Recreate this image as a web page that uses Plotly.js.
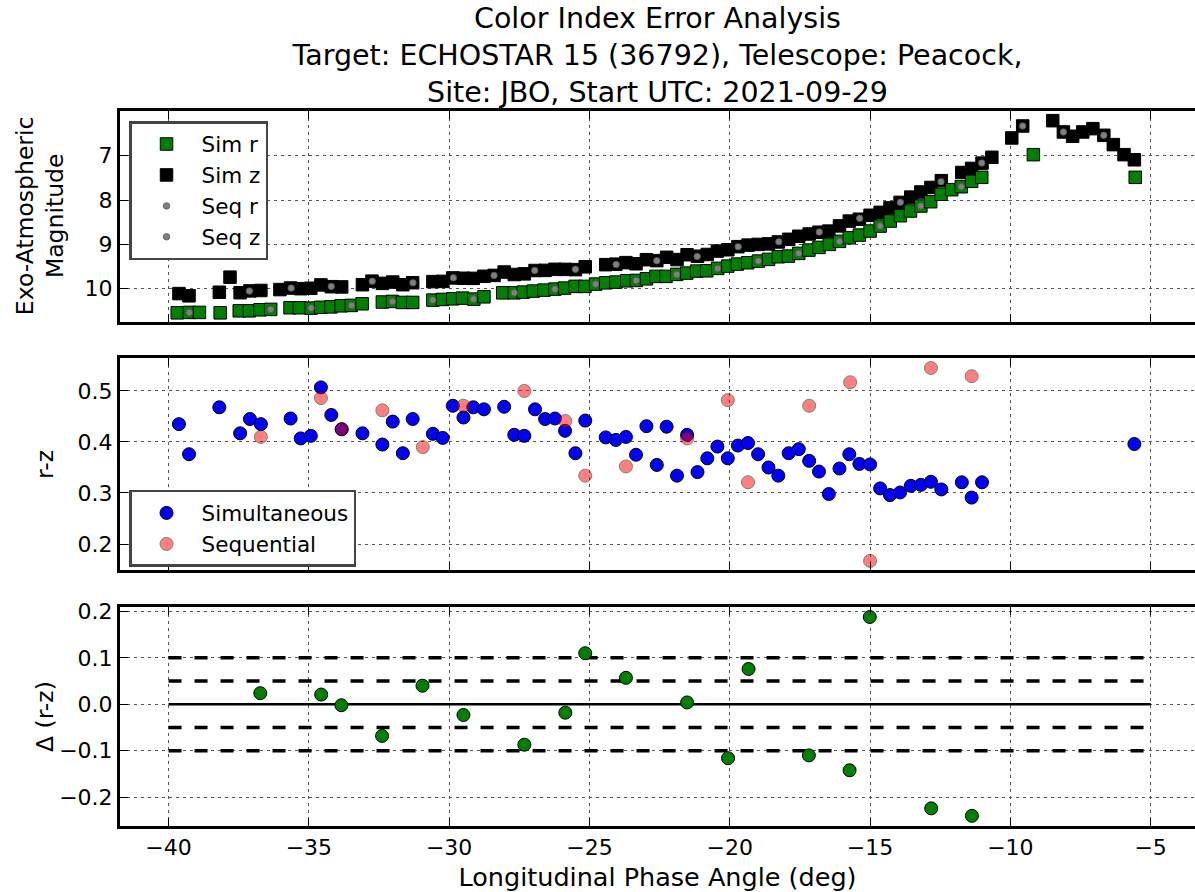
<!DOCTYPE html>
<html>
<head>
<meta charset="utf-8">
<script src="https://cdn.plot.ly/plotly-3.0.1.min.js"></script>
<style>html,body{margin:0;padding:0;background:#fff;}</style>
</head>
<body>
<div id="chart" style="width:1195px;height:892px;"></div>
<script>
// ---- Top panel: magnitudes ----
const simRx = [-39.69,-39.26,-38.90,-38.16,-37.48,-37.12,-36.74,-36.36,-35.67,-35.34,-34.92,-34.58,-34.21,-33.85,-33.49,-33.10,-32.38,-32.02,-31.67,-31.30,
  -30.58,-30.24,-29.87,-29.52,-29.12,-28.76,-28.09,-27.68,-27.36,-27.00,-26.62,-26.23,-25.89,-25.51,-25.16,-24.78,-24.42,-24.06,-23.67,-23.33,
  -22.97,-22.63,-22.27,-21.89,-21.53,-21.18,-20.82,-20.43,-20.07,-19.73,-19.36,-18.98,-18.62,-18.27,-17.91,-17.54,-17.18,-16.82,-16.45,-16.09,
  -15.74,-15.38,-15.00,-14.64,-14.28,-13.92,-13.56,-13.19,-12.84,-12.47,-12.09,-11.75,-11.38,-11.02,-9.18,-5.55];
const simR = [10.544,10.535,10.535,10.544,10.499,10.499,10.476,10.467,10.43,10.43,10.438,10.42,10.41,10.386,10.377,10.34,10.30,10.287,10.31,10.31,
  10.257,10.242,10.228,10.212,10.235,10.183,10.093,10.093,10.077,10.054,10.032,10.009,9.986,9.948,9.948,9.896,9.867,9.851,9.822,9.813,
  9.777,9.722,9.722,9.677,9.648,9.603,9.596,9.542,9.49,9.445,9.415,9.377,9.339,9.28,9.264,9.203,9.129,9.068,9.0,8.932,
  8.851,8.79,8.70,8.587,8.474,8.354,8.248,8.135,8.038,7.87,7.767,7.70,7.578,7.488,6.977,7.488];

const simZx = [-39.63,-39.27,-38.19,-37.81,-37.45,-37.10,-36.71,-36.03,-35.65,-35.29,-34.93,-34.57,-34.20,-33.83,-33.09,-32.75,-32.38,-32.01,-31.65,-31.30,
  -30.58,-30.23,-29.87,-29.49,-29.14,-28.76,-28.40,-28.04,-27.68,-27.32,-26.94,-26.58,-26.23,-25.87,-25.50,-25.15,-24.42,-24.06,-23.70,-23.34,
  -22.97,-22.60,-22.25,-21.88,-21.52,-21.15,-20.80,-20.44,-20.07,-19.71,-19.35,-18.99,-18.62,-18.27,-17.90,-17.54,-17.17,-16.82,-16.47,-16.09,
  -15.74,-15.38,-15.00,-14.64,-14.29,-13.93,-13.55,-13.19,-12.83,-12.46,-11.73,-11.38,-11.01,-10.66,-9.95,-9.56,-8.49,-8.11,-7.78,-7.42,
  -7.06,-6.67,-6.33,-5.95,-5.58];
const simZ = [10.11,10.16,10.08,9.74,10.09,10.05,10.04,10.02,9.985,10.00,9.99,9.915,9.955,9.96,9.91,9.83,9.88,9.85,9.91,9.865,
  9.84,9.835,9.757,9.765,9.767,9.72,9.70,9.624,9.68,9.665,9.59,9.587,9.563,9.564,9.57,9.506,9.458,9.447,9.412,9.438,
  9.346,9.367,9.292,9.343,9.234,9.268,9.228,9.151,9.122,9.052,9.017,9.001,8.989,8.946,8.886,8.817,8.766,8.726,8.701,8.584,
  8.475,8.433,8.344,8.278,8.178,8.053,7.934,7.819,7.716,7.563,7.379,7.287,7.167,7.036,6.60,6.33,6.21,6.465,6.562,6.465,
  6.39,6.54,6.75,6.977,7.092];

const seqRx = [-39.26,-36.36,-34.92,-33.48,-32.02,-30.58,-29.13,-27.68,-26.23,-24.78,-23.33,-21.89,-20.43,-18.98,-17.54,-16.09,-14.64,-13.19,-11.75];
const seqR  = [10.535,10.467,10.438,10.38,10.29,10.257,10.235,10.093,10.01,9.896,9.813,9.677,9.542,9.377,9.203,8.932,8.587,8.135,7.70];
const seqZx = [-37.12,-35.63,-34.20,-32.74,-31.29,-29.85,-28.40,-26.95,-25.50,-24.05,-22.60,-21.16,-19.70,-18.25,-16.81,-15.37,-13.92,-12.47,-11.02,-9.56,-8.11,-6.67];
const seqZ  = [10.054,9.986,9.948,9.83,9.867,9.754,9.70,9.587,9.564,9.452,9.370,9.271,9.054,8.941,8.722,8.413,8.052,7.587,7.165,6.33,6.465,6.54];

// ---- Middle panel: r-z colour index ----
const simulX = [-39.63,-39.27,-38.19,-37.45,-37.10,-36.71,-35.65,-35.29,-34.93,-34.57,-34.20,-33.83,-33.09,-32.38,-32.01,-31.65,-31.30,-30.58,-30.23,-29.87,
  -29.49,-29.14,-28.76,-28.04,-27.68,-27.32,-26.94,-26.58,-26.23,-25.87,-25.50,-25.15,-24.42,-24.06,-23.70,-23.34,-22.97,-22.60,-22.25,-21.88,
  -21.52,-21.15,-20.80,-20.44,-20.07,-19.71,-19.35,-18.99,-18.62,-18.27,-17.90,-17.54,-17.17,-16.82,-16.47,-16.09,-15.74,-15.38,-15.00,-14.64,
  -14.29,-13.93,-13.55,-13.19,-12.83,-12.46,-11.73,-11.38,-11.01,-5.58];
const simulRZ = [0.435,0.376,0.468,0.417,0.445,0.435,0.446,0.407,0.412,0.507,0.453,0.425,0.417,0.395,0.440,0.378,0.445,0.416,0.408,0.471,
  0.448,0.468,0.464,0.469,0.414,0.412,0.464,0.445,0.446,0.422,0.378,0.442,0.409,0.404,0.410,0.375,0.431,0.355,0.430,0.334,
  0.414,0.341,0.368,0.391,0.368,0.393,0.398,0.376,0.350,0.334,0.378,0.386,0.363,0.342,0.298,0.348,0.376,0.357,0.356,0.309,
  0.296,0.301,0.314,0.316,0.322,0.307,0.321,0.291,0.321,0.396];
const seqX  = [-36.71,-34.57,-33.83,-32.38,-30.94,-29.49,-27.32,-25.86,-25.15,-23.70,-21.52,-20.07,-19.35,-17.17,-15.71,-15.00,-12.83,-11.38];
const seqRZ = [0.410,0.486,0.425,0.462,0.390,0.471,0.500,0.441,0.334,0.352,0.407,0.482,0.321,0.471,0.517,0.167,0.545,0.529];

// ---- Bottom panel: difference ----
const deltaX = [-36.73,-34.56,-33.84,-32.39,-30.95,-29.49,-27.32,-25.86,-25.15,-23.70,-21.52,-20.06,-19.33,-17.18,-15.73,-15.01,-12.82,-11.37];
const deltaRZ = [0.024,0.021,-0.002,-0.068,0.040,-0.023,-0.087,-0.018,0.110,0.057,0.004,-0.116,0.076,-0.110,-0.142,0.188,-0.224,-0.240];
const refSpan = [-40, -5];
const refZero = 0.0;
const refLevels = [0.1, 0.05, -0.05, -0.1];

// ---- Ticks / text ----
const xTicks = [-40,-35,-30,-25,-20,-15,-10,-5];
const magTicks = [7,8,9,10];
const rzTicks = [0.2,0.3,0.4,0.5];
const dTicks = [-0.2,-0.1,0.0,0.1,0.2];
const titleText = 'Color Index Error Analysis<br>Target: ECHOSTAR 15 (36792), Telescope: Peacock,<br>Site: JBO, Start UTC: 2021-09-29';
const xTitle = 'Longitudinal Phase Angle (deg)';
const yTitles = ['Exo-Atmospheric<br>Magnitude', 'r-z', 'Δ (r-z)'];

const FONT = 'DejaVu Sans, Liberation Sans, sans-serif';
const traces = [];

traces.push({x: simZx, y: simZ, xaxis:'x', yaxis:'y', type:'scatter', mode:'markers', name:'Sim z', legend:'legend', legendrank:2,
  marker:{symbol:'square', size:12.5, color:'black', line:{color:'black', width:1}}});
traces.push({x: simRx, y: simR, xaxis:'x', yaxis:'y', type:'scatter', mode:'markers', name:'Sim r', legend:'legend', legendrank:1,
  marker:{symbol:'square', size:12.5, color:'#008000', line:{color:'black', width:1}}});
traces.push({x: seqRx, y: seqR, xaxis:'x', yaxis:'y', type:'scatter', mode:'markers', name:'Seq r', legend:'legend', legendrank:3,
  marker:{symbol:'circle', size:6.5, color:'#808080', line:{color:'#555555', width:0.8}}});
traces.push({x: seqZx, y: seqZ, xaxis:'x', yaxis:'y', type:'scatter', mode:'markers', name:'Seq z', legend:'legend', legendrank:4,
  marker:{symbol:'circle', size:6.5, color:'#808080', line:{color:'#555555', width:0.8}}});

traces.push({x: simulX, y: simulRZ, xaxis:'x2', yaxis:'y2', type:'scatter', mode:'markers', name:'Simultaneous', legend:'legend2',
  marker:{symbol:'circle', size:13, color:'#0000ff', line:{color:'black', width:1}}});
traces.push({x: seqX, y: seqRZ, xaxis:'x2', yaxis:'y2', type:'scatter', mode:'markers', name:'Sequential', legend:'legend2',
  marker:{symbol:'circle', size:13, color:'#ff0000', opacity:0.5, line:{color:'black', width:1}}});

refLevels.forEach(function(lv){
  traces.push({x: refSpan, y: [lv, lv], xaxis:'x3', yaxis:'y3', type:'scatter', mode:'lines', showlegend:false, hoverinfo:'skip',
    line:{color:'black', width:3.5, dash:'13px,13px'}});
});
traces.push({x: refSpan, y: [refZero, refZero], xaxis:'x3', yaxis:'y3', type:'scatter', mode:'lines', showlegend:false, hoverinfo:'skip',
  line:{color:'black', width:2.5}});
traces.push({x: deltaX, y: deltaRZ, xaxis:'x3', yaxis:'y3', type:'scatter', mode:'markers', showlegend:false,
  marker:{symbol:'circle', size:13, color:'#008000', line:{color:'black', width:1}}});

const xRange = [-41.73, -3.42];
function xAxis(anchor, labels){
  return {anchor: anchor, range: xRange, tickvals: xTicks, showticklabels: labels,
    tickfont:{size:22, family:FONT, color:'black'},
    showline:true, linewidth:3, linecolor:'black', mirror:'ticks',
    ticks:'inside', ticklen:8, tickwidth:1, tickcolor:'black',
    showgrid:true, gridcolor:'#555555', gridwidth:1, griddash:'3px,4px', zeroline:false};
}
function yAxis(domain, range, tickvals, fmt, anchor){
  return {domain: domain, range: range, tickvals: tickvals, tickformat: fmt, anchor: anchor,
    tickfont:{size:22, family:FONT, color:'black'},
    showline:true, linewidth:3, linecolor:'black', mirror:false,
    ticks:'inside', ticklen:8, tickwidth:1, tickcolor:'black',
    showgrid:true, gridcolor:'#555555', gridwidth:1, griddash:'3px,4px', zeroline:false};
}

const xa3 = xAxis('y3', true);
xa3.title = {text: xTitle, font:{size:25.5, family:FONT, color:'black'}};
const xa2 = xAxis('y2', false); xa2.matches = 'x3';
const xa1 = xAxis('y', false); xa1.matches = 'x3';

const ya1 = yAxis([0.7049, 1], [10.751, 5.992], magTicks, '', 'x');
const ya2 = yAxis([0.358, 0.6541], [0.149, 0.564], rzTicks, '.1f', 'x2');
const ya3 = yAxis([0, 0.3063], [-0.262, 0.2095], dTicks, '.1f', 'x3');

// y-axis titles placed beside each panel
const yTitlePos = [[-0.0744, 0.853], [-0.0698, 0.5063], [-0.0698, 0.1538]];
const annotations = yTitles.map(function(t, i){
  return {text: t, xref:'paper', yref:'paper', x: yTitlePos[i][0], y: yTitlePos[i][1],
    xanchor:'center', yanchor:'middle', textangle:-90, showarrow:false,
    font:{size:23.5, family:FONT, color:'black'}};
});

const legendStyle = function(y){
  return {x:0.0084, y:y, xanchor:'left', yanchor:'top', xref:'paper', yref:'paper',
    bgcolor:'white', bordercolor:'#444444', borderwidth:2.5,
    font:{size:21.5, family:FONT, color:'black'}, itemwidth:60, tracegroupgap:0, traceorder:'normal'};
};

const layout = {
  width:1195, height:892,
  margin:{l:120, r:0, t:111, b:66, pad:0},
  paper_bgcolor:'white', plot_bgcolor:'white',
  font:{family:FONT, size:22, color:'black'},
  title:{text:titleText, font:{size:28.5, family:FONT, color:'black'}, x:0.5, xref:'paper', xanchor:'center',
    y:0.9686, yref:'container', yanchor:'top'},
  xaxis: xa1, xaxis2: xa2, xaxis3: xa3,
  yaxis: ya1, yaxis2: ya2, yaxis3: ya3,
  legend: legendStyle(0.986),
  legend2: legendStyle(0.470),
  annotations: annotations,
  showlegend:true
};

Plotly.newPlot('chart', traces, layout, {displayModeBar:false, responsive:false});
</script>
</body>
</html>
